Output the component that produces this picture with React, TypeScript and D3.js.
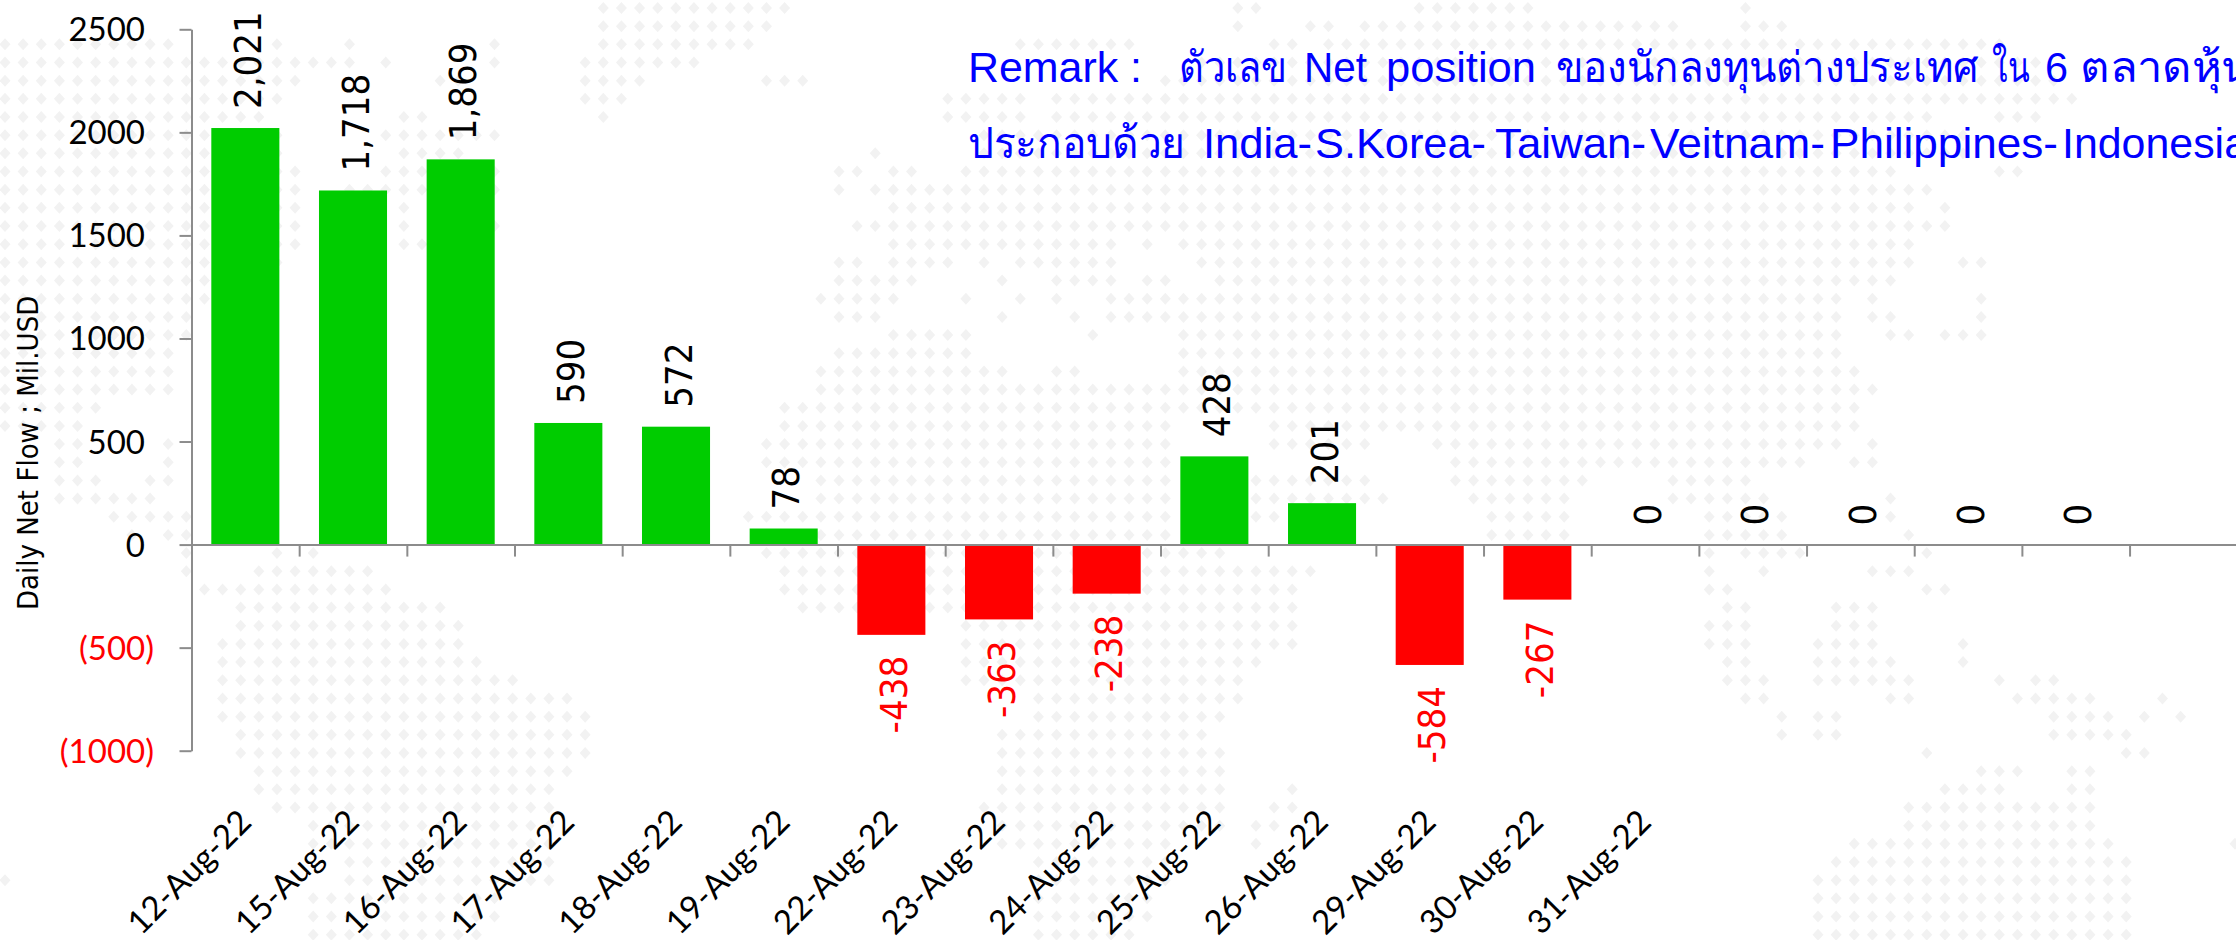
import React, { useRef, useEffect } from 'react'
import * as d3 from 'd3'

const WIDTH = 2236
const HEIGHT = 940

const dates = [
  '12-Aug-22', '15-Aug-22', '16-Aug-22', '17-Aug-22', '18-Aug-22', '19-Aug-22', '22-Aug-22',
  '23-Aug-22', '24-Aug-22', '25-Aug-22', '26-Aug-22', '29-Aug-22', '30-Aug-22', '31-Aug-22',
]
// slots after 31-Aug have no date label yet
const blankSlots = ['s1', 's2', 's3', 's4', 's5']
const netFlow = [2021, 1718, 1869, 590, 572, 78, -438, -363, -238, 428, 201, -584, -267, 0, 0, 0, 0, 0]
const yTicks = [2500, 2000, 1500, 1000, 500, 0, -500, -1000]
const yTitle = 'Daily Net Flow ; Mil.USD'
const remarkWords = [
  ['Remark :', 'ตัวเลข', 'Net', 'position', 'ของนักลงทุนต่างประเทศ', 'ใน', '6', 'ตลาดหุ้น'],
  ['ประกอบด้วย', 'India-', 'S.Korea-', 'Taiwan-', 'Veitnam-', 'Philippines-', 'Indonesia'],
]
// the remark was set in a narrower face, so every word gets its own start and width
const remarkStarts = [
  [968, 1179, 1304, 1386, 1556, 1992, 2045, 2080],
  [968, 1203, 1315, 1495, 1650, 1830, 2062],
]
const remarkWidths = [
  [174, 108, 63, 150, 422, 37, 23, 172],
  [217, 109, 171, 151, 175, 228, 186],
]

// background world map: for each row of the dot grid, the runs of filled columns
const mapRows = [
  [[33, 43], [68, 69], [78, 84], [96, 96]],
  [[33, 42], [68, 68], [72, 73], [75, 92], [96, 98]],
  [[0, 9], [15, 15], [19, 19], [27, 27], [33, 41], [56, 62], [70, 71], [73, 110]],
  [[0, 19], [21, 21], [27, 27], [32, 38], [66, 112]],
  [[0, 16], [24, 25], [32, 35], [42, 44], [64, 113]],
  [[0, 15], [32, 34], [52, 56], [58, 114]],
  [[0, 14], [22, 23], [33, 33], [52, 56], [58, 106], [110, 112]],
  [[0, 15], [21, 27], [54, 108]],
  [[0, 15], [22, 25], [48, 48], [54, 108]],
  [[0, 16], [21, 27], [46, 47], [49, 50], [53, 104], [110, 111]],
  [[0, 16], [19, 27], [46, 46], [48, 106]],
  [[0, 16], [22, 22], [49, 105], [107, 107]],
  [[0, 16], [22, 22], [27, 27], [47, 107]],
  [[0, 16], [22, 23], [49, 61], [63, 63], [65, 105]],
  [[0, 15], [46, 47], [49, 52], [54, 54], [56, 61], [66, 105], [108, 109]],
  [[0, 11], [46, 50], [55, 55], [58, 61], [63, 64], [67, 104]],
  [[0, 11], [45, 49], [53, 53], [56, 56], [58, 58], [61, 101], [103, 103], [109, 109]],
  [[0, 10], [46, 48], [55, 55], [59, 59], [61, 101], [103, 104], [109, 109]],
  [[0, 10], [49, 53], [60, 60], [65, 101], [104, 105], [107, 109]],
  [[0, 9], [46, 53], [65, 101]],
  [[0, 9], [45, 55], [58, 59], [65, 102]],
  [[0, 9], [45, 103]],
  [[0, 5], [43, 102]],
  [[0, 4], [43, 64], [70, 102]],
  [[3, 4], [9, 9], [42, 64], [70, 75], [79, 101], [103, 103]],
  [[3, 4], [9, 9], [42, 64], [80, 99], [102, 103]],
  [[3, 5], [8, 9], [45, 64], [69, 75], [80, 87], [92, 96]],
  [[3, 8], [45, 64], [69, 76], [81, 86], [92, 97], [104, 104]],
  [[6, 10], [41, 64], [69, 70], [82, 86], [94, 98], [104, 104]],
  [[7, 7], [9, 10], [42, 64], [82, 86], [94, 98], [105, 105]],
  [[10, 10], [15, 15], [17, 17], [42, 67], [94, 94], [96, 99], [106, 106]],
  [[10, 10], [14, 20], [43, 72], [94, 94], [97, 97], [103, 105]],
  [[11, 21], [43, 71], [94, 95], [106, 107]],
  [[13, 24], [44, 71], [95, 96], [101, 103]],
  [[13, 25], [53, 71], [94, 96], [101, 103]],
  [[12, 25], [53, 71], [94, 96], [100, 103], [108, 108]],
  [[12, 26], [53, 69], [95, 96], [100, 104], [108, 108]],
  [[12, 28], [53, 68], [95, 97], [100, 105], [110, 110], [112, 113]],
  [[12, 31], [57, 68], [96, 97], [104, 105], [111, 115], [119, 119]],
  [[12, 32], [57, 67], [98, 98], [100, 101], [113, 116], [118, 118], [120, 120]],
  [[13, 32], [55, 66], [98, 98], [100, 101], [113, 117]],
  [[13, 32], [55, 67], [106, 106], [117, 118]],
  [[14, 31], [55, 67], [109, 111], [114, 115]],
  [[14, 30], [55, 67], [71, 71], [107, 110], [114, 115]],
  [[15, 30], [54, 67], [70, 71], [105, 115]],
  [[17, 30], [55, 67], [69, 70], [105, 115]],
  [[17, 30], [55, 64], [69, 69], [102, 116], [123, 123]],
  [[19, 30], [57, 64], [101, 117]],
  [[0, 0], [19, 30], [57, 64], [100, 117]],
  [[17, 27], [57, 63], [100, 117]],
  [[17, 27], [57, 63], [100, 117]],
  [[17, 26], [57, 62], [100, 117]],
]

const labelFont = '"DejaVu Sans", sans-serif'
const tickFont = 'Lato, sans-serif'

const App = () => {
  const svgRef = useRef<SVGSVGElement>(null)

  useEffect(() => {
    const svg = d3.select(svgRef.current)
    svg.selectAll('*').remove()

    const left = 191.5
    const slots = [...dates, ...blankSlots]
    const right = left + 107.67 * slots.length

    const xBand = d3.scaleBand().domain(slots).range([left, right]).paddingInner(0.368).paddingOuter(0.184)
    const xEdge = d3.scaleLinear().domain([0, slots.length]).range([left, right])
    const y = d3.scaleLinear().domain([-1000, 2500]).range([750.7, 29.3])

    // dotted map behind everything
    const mapX = d3.scaleLinear().domain([0, 123]).range([5, 5 + 123 * 18.13])
    const mapY = d3.scaleLinear().domain([0, 51]).range([8, 8 + 51 * 18.17])
    const dots = mapRows.flatMap((runs, r) =>
      runs.flatMap(([a, b]) => d3.range(a, b + 1).map((c) => ({ r, c })))
    )
    svg
      .append('g')
      .attr('fill', '#f2f2f2')
      .selectAll('path')
      .data(dots)
      .join('path')
      .attr('d', (d) => {
        const cx = mapX(d.c)
        const cy = mapY(d.r)
        return `M${cx},${cy - 6}L${cx + 5.5},${cy}L${cx},${cy + 6}L${cx - 5.5},${cy}Z`
      })

    // bars
    svg
      .append('g')
      .selectAll('rect')
      .data(netFlow.map((v, i) => ({ v, key: slots[i] })))
      .join('rect')
      .attr('x', (d) => xBand(d.key))
      .attr('width', xBand.bandwidth())
      .attr('y', (d) => y(Math.max(d.v, 0)))
      .attr('height', (d) => Math.abs(y(d.v) - y(0)))
      .attr('fill', (d) => (d.v < 0 ? '#ff0000' : '#00cc00'))

    // y axis
    const yAxis = d3.axisLeft(y).tickValues(yTicks).tickSize(12).tickSizeOuter(0).tickFormat(() => '')
    const yG = svg.append('g').attr('transform', `translate(${left},0)`).call(yAxis)
    yG.selectAll('.domain, .tick line').attr('stroke', '#8c8c8c').attr('stroke-width', 2)

    svg
      .append('g')
      .selectAll('text')
      .data(yTicks)
      .join('text')
      .attr('x', (d) => (d < 0 ? 154 : 145))
      .attr('y', (d) => y(d) + 12)
      .attr('text-anchor', 'end')
      .attr('font-family', tickFont)
      .attr('font-size', 33)
      .attr('fill', (d) => (d < 0 ? '#ff0000' : '#000'))
      .text((d) => (d < 0 ? `(${Math.abs(d)})` : `${d}`))

    // x axis, ticks sit between the bars
    const xAxis = d3
      .axisBottom(xEdge)
      .tickValues(d3.range(0, slots.length + 1))
      .tickSize(12)
      .tickSizeOuter(0)
      .tickFormat(() => '')
    const xG = svg.append('g').attr('transform', `translate(0,${y(0)})`).call(xAxis)
    xG.selectAll('.domain, .tick line').attr('stroke', '#8c8c8c').attr('stroke-width', 2)

    svg
      .append('g')
      .selectAll('text')
      .data(dates)
      .join('text')
      .attr('transform', (d) => `translate(${xBand(d) + xBand.bandwidth() / 2 + 8},824) rotate(-45)`)
      .attr('text-anchor', 'end')
      .attr('font-family', tickFont)
      .attr('font-size', 33)
      .text((d) => d)

    // value labels, turned upright
    svg
      .append('g')
      .selectAll('text')
      .data(netFlow.map((v, i) => ({ v, key: slots[i] })))
      .join('text')
      .attr('transform', (d) => {
        const px = xBand(d.key) + xBand.bandwidth() / 2 + 15.5
        const py = d.v < 0 ? y(d.v) + 21 : y(d.v) - 19
        return `translate(${px},${py}) rotate(-90)`
      })
      .attr('text-anchor', (d) => (d.v < 0 ? 'end' : 'start'))
      .attr('font-family', labelFont)
      .attr('font-stretch', 'condensed')
      .attr('font-size', 38)
      .attr('fill', (d) => (d.v < 0 ? '#ff0000' : '#000'))
      .text((d) => d3.format(',')(d.v).replace('−', '-'))

    svg
      .append('text')
      .attr('transform', 'translate(38,610) rotate(-90)')
      .attr('font-family', labelFont)
      .attr('font-stretch', 'condensed')
      .attr('font-size', 29)
      .text(yTitle)

    const remark = remarkWords.flatMap((line, i) =>
      line.map((word, j) => ({ word, line: i, x: remarkStarts[i][j], w: remarkWidths[i][j] }))
    )
    svg
      .append('g')
      .selectAll('text')
      .data(remark)
      .join('text')
      .attr('x', (d) => d.x)
      .attr('y', (d) => 82 + d.line * 76)
      .attr('textLength', (d) => d.w)
      .attr('lengthAdjust', 'spacingAndGlyphs')
      .attr('font-family', '"Liberation Sans", sans-serif')
      .attr('font-size', 43)
      .attr('fill', '#0000ff')
      .text((d) => d.word)
  }, [])

  return (
    <svg
      ref={svgRef}
      width={WIDTH}
      height={HEIGHT}
      style={{ position: 'absolute', left: 0, top: 0, display: 'block', background: '#fff' }}
    />
  )
}

export default App
